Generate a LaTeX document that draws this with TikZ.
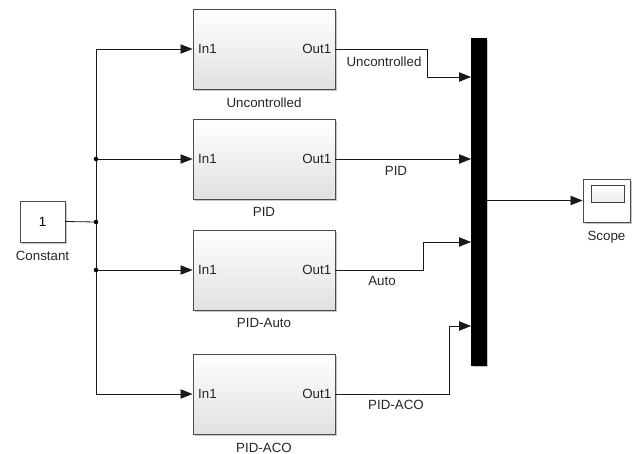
\documentclass[tikz,border=0pt]{standalone}
\usepackage{fontspec}
\setmainfont{Liberation Sans}
\usetikzlibrary{arrows.meta,shadows}
\begin{document}
\begin{tikzpicture}[x=0.75pt,y=-0.75pt,
  font=\fontsize{10}{12}\selectfont,
  txt/.style={text=black!85, inner sep=0pt},
  shad/.style={copy shadow={shadow xshift=1.3pt, shadow yshift=-1.3pt, draw=none, fill=gray!45}},
  blk/.style={draw=black!70, line width=0.7pt, top color=white, bottom color=gray!24,
    minimum width=106.5pt, minimum height=60pt, inner sep=0pt, shad},
  small/.style={draw=black!70, line width=0.7pt, fill=white, inner sep=0pt, shad},
  wire/.style={draw=black!90, line width=0.6pt},
  arr/.style={wire, -{Triangle[length=9pt,width=7pt]}},
  dot/.style={circle, fill=black, inner sep=0pt, minimum size=3.4pt}
]
\useasboundingbox (0,0) rectangle (642,453);

% blocks
\node[blk] (u) at (264,49) {};
\node[blk] (p) at (264,159) {};
\node[blk] (a) at (264,270) {};
\node[blk] (c) at (264,394) {};

\foreach \b/\nm in {u/Uncontrolled, p/PID, a/PID-Auto, c/PID-ACO}{
  \node[txt, anchor=west] (\b in) at ([xshift=4pt]\b.west) {In1};
  \node[txt, anchor=east] (\b out) at ([xshift=-3pt]\b.east) {Out1};
  \node[txt, anchor=north] (\b name) at ([yshift=-6pt]\b.south) {\nm};
}

% constant
\node[small, minimum width=33.75pt, minimum height=30.75pt] (k) at (42.5,221.5) {1};
\node[txt, anchor=north] (kname) at ([yshift=-6pt]k.south) {Constant};

% mux
\node[fill=black, draw=black, minimum width=11.5pt, minimum height=245pt, inner sep=0pt, shad] (mux) at (479,201.5) {};

% scope
\node[small, minimum width=35.25pt, minimum height=32.25pt] (s) at (606.5,200.5) {};
\node[draw=black!75, line width=0.7pt, top color=white, bottom color=gray!15, minimum width=24.75pt, minimum height=12.75pt, inner sep=0pt] (sscreen) at (607.5,193.5) {};
\node[txt, anchor=north] (sname) at ([yshift=-6pt]s.south) {Scope};

% junctions
\coordinate (j) at (96,222);
\draw[wire] (k.east) -- (j);
\draw[arr] (j) |- (u.west);
\draw[arr] (j) |- (p.west);
\draw[arr] (j) |- (a.west);
\draw[arr] (j) |- (c.west);
\node[dot] (d1) at (96,159) {};
\node[dot] (d2) at (j) {};
\node[dot] (d3) at (96,270) {};

% outputs to mux
\coordinate (m1) at (mux.west |- 0,77);
\coordinate (m2) at (mux.west |- 0,159);
\coordinate (m3) at (mux.west |- 0,242);
\coordinate (m4) at (mux.west |- 0,326);
\draw[arr] (u.east) -- (427,49) |- (m1);
\draw[arr] (p.east) -- (m2);
\draw[arr] (a.east) -- (423,270) |- (m3);
\draw[arr] (c.east) -- (449,394) |- (m4);
\draw[arr] (mux.east |- s.west) -- (s.west);

% signal labels
\node[txt] (lu) at (384,62) {Uncontrolled};
\node[txt] (lp) at (396,171) {PID};
\node[txt] (la) at (382,281) {Auto};
\node[txt] (lc) at (396,405) {PID-ACO};
\end{tikzpicture}
\end{document}
